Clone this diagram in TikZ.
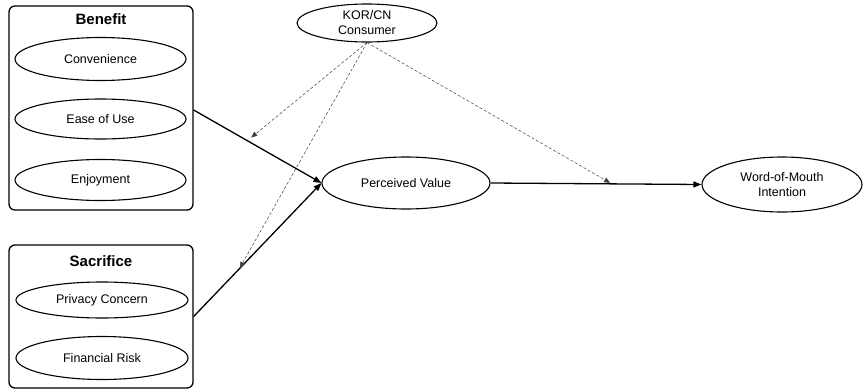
\documentclass[tikz,border=0pt]{standalone}
\usepackage{fontspec}
\setmainfont{Liberation Sans}
\usetikzlibrary{arrows.meta,shapes.geometric}
\begin{document}
\begin{tikzpicture}[x=1pt,y=-1pt,
  lat/.style={draw, ellipse, line width=1.1pt, inner sep=0pt, align=center,
    font=\fontsize{12.5}{15}\selectfont},
  grp/.style={draw, rounded corners=6pt, line width=1.3pt, minimum width=184pt, inner sep=0pt},
  ttl/.style={font=\fontsize{15}{18}\selectfont\bfseries},
  relarrow/.style={line width=1.3pt, -{Triangle[length=8pt,width=6pt]}},
  modarrow/.style={densely dashed, line width=0.5pt, draw=black!75, -{Triangle[length=6pt,width=5pt]}, shorten >=1pt}
]
\useasboundingbox (0,0) rectangle (865,391);
% groups
\node[grp, minimum height=204pt] (benefit) at (101,108) {};
\node[ttl] (bt) at (101,19) {Benefit};
\node[lat, minimum width=171pt, minimum height=43pt] (conv) at (100.5,59) {Convenience};
\node[lat, minimum width=171pt, minimum height=40pt] (ease) at (100.5,119) {Ease of Use};
\node[lat, minimum width=171pt, minimum height=41pt] (enj) at (100.5,180) {Enjoyment};

\node[grp, minimum height=143pt] (sacr) at (101,316.5) {};
\node[ttl] (st) at (101,261) {Sacrifice};
\node[lat, minimum width=172pt, minimum height=36pt] (priv) at (102,300) {Privacy Concern};
\node[lat, minimum width=172pt, minimum height=43pt] (fin) at (102,358) {Financial Risk};

% constructs
\node[lat, minimum width=140pt, minimum height=38pt] (kor) at (367,23) {KOR/CN\\Consumer};
\node[lat, minimum width=168pt, minimum height=52pt] (pv) at (406,183) {Perceived Value};
\node[lat, minimum width=160pt, minimum height=55pt] (wom) at (782,184.5) {Word-of-Mouth\\Intention};

% paths
\draw[relarrow] (benefit.east |- 0,110) -- (pv.west) coordinate[pos=0.42] (m1);
\draw[relarrow] (sacr.east) -- (pv.west) coordinate[pos=0.357] (m2);
\draw[relarrow] (pv.east) -- (wom.west) coordinate[pos=0.575] (m3);

% moderation
\draw[modarrow, shorten >=5pt] (kor.south) -- (m1);
\draw[modarrow] (kor.south) -- (m2);
\draw[modarrow, shorten >=2pt] (kor.south) -- (m3);
\end{tikzpicture}
\end{document}
